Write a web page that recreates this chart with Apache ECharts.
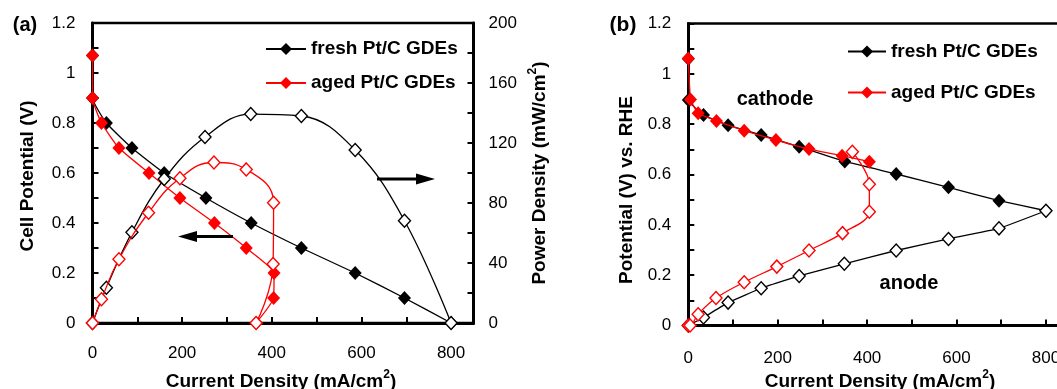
<!DOCTYPE html>
<html>
<head>
<meta charset="utf-8">
<script src="https://cdn.jsdelivr.net/npm/echarts@6/dist/echarts.min.js"></script>
<style>
html,body{margin:0;padding:0;background:#fff;}
#main{width:1057px;height:389px;}
</style>
</head>
<body>
<div id="main"></div>
<script>
// ---------- data ----------
// Panel (a): [current density mA/cm2, cell potential V]
const aFreshPol = [[0,1.07],[0,0.9],[31,0.8],[88,0.7],[160,0.6],[253,0.5],[354,0.4],[466,0.3],[586,0.2],[696,0.1],[800,0]];
const aAgedPol  = [[0,1.07],[0,0.9],[20,0.8],[59,0.7],[126,0.6],[195,0.5],[272,0.4],[343,0.3],[405,0.2],[404,0.1],[365,0]];
// Panel (a): [current density, power density mW/cm2]
const aFreshPow = [[0,0],[31,23.5],[88,60.5],[160,96],[251,124],[353,139.3],[466,138],[586,115.3],[696,68.2],[800,0]];
const aAgedPow  = [[0,0],[20,15.8],[59,42.5],[125,73.5],[195,96.5],[271,107],[343,102.4],[404,80.2],[403,39.3],[365,0]];
// Panel (b): [current density, potential V vs RHE]
const bFreshCathode = [[0,1.06],[0,0.896],[34,0.836],[89,0.796],[163,0.757],[248,0.71],[350,0.652],[465,0.602],[582,0.549],[695,0.496],[800,0.456]];
const bFreshAnode   = [[800,0.456],[695,0.386],[582,0.344],[465,0.298],[349,0.245],[248,0.197],[163,0.148],[89,0.091],[34,0.032],[0,0]];
const bAgedCathode  = [[0,1.061],[5,0.898],[22,0.843],[63,0.813],[125,0.774],[196,0.737],[270,0.701],[344,0.675],[405,0.651]];
const bAgedAnode    = [[0,0],[4,0],[22,0.045],[62,0.109],[125,0.172],[198,0.234],[270,0.298],[345,0.367],[405,0.452],[405,0.561],[367,0.69]];

const seriesNames = ['fresh Pt/C GDEs','aged Pt/C GDEs'];
const xTitle = 'Current Density (mA/cm';
const yTitleA = 'Cell Potential (V)';
const y2TitleA = 'Power Density (mW/cm';
const yTitleB = 'Potential (V) vs. RHE';

// ---------- styles ----------
const FONT = 'Liberation Sans, Arial, Helvetica, sans-serif';
const RED = '#ff0000', BLACK = '#000000';

function xAxisCfg(gi, margin){
  return {
    type:'value', gridIndex:gi, min:0, max:850, interval:100,
    axisLine:{show:true, onZero:false, lineStyle:{color:BLACK, width:3}},
    axisTick:{show:true, inside:true, length:6, lineStyle:{color:BLACK, width:2}},
    axisLabel:{margin:margin, fontSize:17, fontFamily:FONT, color:BLACK,
      formatter:v => (Math.round(v) % 200 === 0 && v <= 800) ? String(Math.round(v)) : ''},
    splitLine:{show:false}
  };
}
function yAxisCfg(gi){
  return {
    type:'value', gridIndex:gi, min:0, max:1.2, interval:0.1, position:'left',
    axisLine:{show:true, onZero:false, lineStyle:{color:BLACK, width:3}},
    axisTick:{show:true, inside:true, length:6, lineStyle:{color:BLACK, width:2}},
    axisLabel:{margin:17, fontSize:17, fontFamily:FONT, color:BLACK,
      formatter:v => { const k = Math.round(v*10); return k % 2 === 0 ? String(k/10) : ''; }},
    splitLine:{show:false}
  };
}

function lineSeries(name, data, color, filled, xi, yi, smooth, z){
  return {
    name:name, type:'line', xAxisIndex:xi, yAxisIndex:yi, data:data,
    smooth:smooth, symbol:'diamond', symbolSize: filled ? [13,14] : [12,13],
    showAllSymbol:true, clip:false, z:z,
    lineStyle:{color:color, width:1.3},
    itemStyle: filled ? {color:color, borderColor:color, borderWidth:0}
                      : {color:'#ffffff', borderColor:color, borderWidth:1.4},
    emphasis:{disabled:true}
  };
}

function supTitle(text, x, y, rot){
  return {
    type:'text', x:x, y:y, rotation:rot || 0, z:100,
    style:{
      text:'{b|' + text + '}{s|2}{b|)}',
      align:'center', verticalAlign:'middle',
      rich:{
        b:{fontFamily:FONT, fontSize:19, fontWeight:'bold', fill:BLACK, lineHeight:22, verticalAlign:'bottom'},
        s:{fontFamily:FONT, fontSize:12, fontWeight:'bold', fill:BLACK, lineHeight:22, verticalAlign:'top'}
      }
    }
  };
}
function plainText(text, x, y, size, rot){
  return {
    type:'text', x:x, y:y, rotation:rot || 0, z:100,
    style:{text:text, fontFamily:FONT, fontSize:size, fontWeight:'bold', fill:BLACK,
      align:'center', verticalAlign:'middle'}
  };
}
function arrow(x1, x2, y){ // horizontal arrow from x1 to tip x2
  const dir = Math.sign(x2 - x1), headL = 19, headH = 5.5;
  return [
    {type:'line', z:90, shape:{x1:x1, y1:y, x2:x2 - dir*headL, y2:y}, style:{stroke:BLACK, lineWidth:3}},
    {type:'polygon', z:90, shape:{points:[[x2,y],[x2 - dir*headL, y - headH],[x2 - dir*headL, y + headH]]}, style:{fill:BLACK}}
  ];
}

const legendText = {fontFamily:FONT, fontSize:19, fontWeight:'bold', color:BLACK};

const option = {
  animation:false,
  backgroundColor:'#ffffff',
  grid:[
    {left:92.5, top:23, width:381, height:300, show:true, borderColor:BLACK, borderWidth:2.5, backgroundColor:'transparent', outerBoundsMode:'none', containLabel:false},
    {left:688.3, top:23.5, width:380, height:302, show:true, borderColor:BLACK, borderWidth:2.5, backgroundColor:'transparent', outerBoundsMode:'none', containLabel:false}
  ],
  xAxis:[xAxisCfg(0, 22), xAxisCfg(1, 24)],
  yAxis:[
    yAxisCfg(0),
    {
      type:'value', gridIndex:0, min:0, max:200, interval:20, position:'right',
      axisLine:{show:true, onZero:false, lineStyle:{color:BLACK, width:3}},
      axisTick:{show:true, inside:true, length:6, lineStyle:{color:BLACK, width:2}},
      axisLabel:{margin:15, fontSize:17, fontFamily:FONT, color:BLACK,
        formatter:v => (Math.round(v) % 40 === 0) ? String(Math.round(v)) : ''},
      splitLine:{show:false}
    },
    yAxisCfg(1)
  ],
  legend:[
    {data:seriesNames, left:265, top:39.5, orient:'vertical', itemWidth:40, itemHeight:15, itemGap:15,
     padding:0, selectedMode:false, textStyle:legendText},
    {data:seriesNames, left:847, top:42, orient:'vertical', itemWidth:38, itemHeight:15, itemGap:22,
     padding:0, selectedMode:false, textStyle:legendText}
  ],
  series:[
    lineSeries(seriesNames[0], aFreshPol, BLACK, true, 0, 0, 0.15, 2),
    lineSeries(seriesNames[1], aAgedPol, RED, true, 0, 0, 0.15, 3),
    lineSeries('fresh power', aFreshPow, BLACK, false, 0, 1, 0.4, 4),
    lineSeries('aged power', aAgedPow, RED, false, 0, 1, 0.45, 5),
    lineSeries(seriesNames[0], bFreshCathode, BLACK, true, 1, 2, 0.1, 2),
    lineSeries('fresh anode', bFreshAnode, BLACK, false, 1, 2, 0.1, 3),
    lineSeries(seriesNames[1], bAgedCathode, RED, true, 1, 2, 0.1, 4),
    lineSeries('aged anode', bAgedAnode, RED, false, 1, 2, 0.35, 5)
  ],
  graphic:[
    plainText('(a)', 25, 25, 20),
    plainText('(b)', 623, 25, 21),
    plainText(yTitleA, 28, 176, 19, Math.PI/2),
    supTitle(y2TitleA, 538, 173, Math.PI/2),
    supTitle(xTitle, 281, 380),
    plainText(yTitleB, 627, 190, 19, Math.PI/2),
    supTitle(xTitle, 880, 380),
    plainText('cathode', 775, 99, 20),
    plainText('anode', 909, 283, 20),
    ...arrow(233, 178, 236.5),
    ...arrow(377, 435, 179)
  ]
};

const chart = echarts.init(document.getElementById('main'), null, {renderer:'canvas'});
chart.setOption(option);
</script>
</body>
</html>
